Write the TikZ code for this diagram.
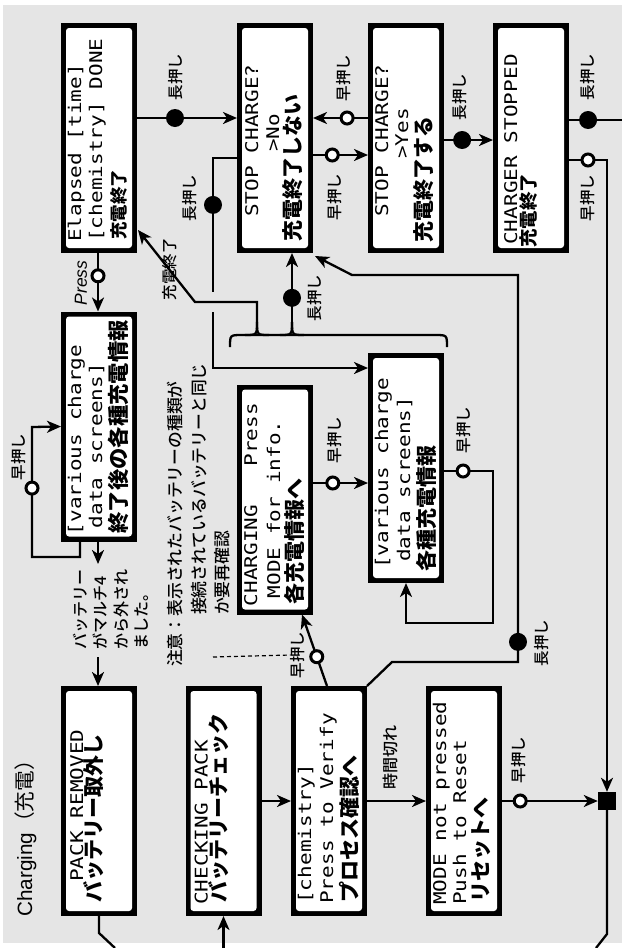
\documentclass[tikz,border=0pt]{standalone}
\usepackage{fontspec}
\usepackage{graphicx}
\usetikzlibrary{arrows.meta,calc}
\newfontfamily\cjk{Noto Sans CJK JP}
\newfontfamily\cjkm{Noto Sans CJK JP}[UprightFont=* Medium]
\newfontfamily\lcdmono{DejaVu Sans Mono}
\newfontfamily\lsans{Liberation Sans}
\definecolor{bg}{RGB}{229,229,229}
\ExplSyntaxOn
\dim_new:N \l_lcd_pitch_dim
\dim_set:Nn \l_lcd_pitch_dim {12.7pt}
\NewDocumentCommand \lcdtext { m }
  {
    \str_map_inline:nn {#1}
      {
        \str_if_eq:nnTF {##1} {_}
          { \makebox[\l_lcd_pitch_dim]{} }
          { \makebox[\l_lcd_pitch_dim]{\scalebox{1.2}[1]{##1}} }
      }
  }
\ExplSyntaxOff
\tikzset{
 lcd/.style={rectangle, fill=black, minimum width=76pt, minimum height=230pt, inner sep=0pt, outer sep=0pt,
   path picture={\fill[white, rounded corners=3pt] ([xshift=5pt,yshift=5pt]path picture bounding box.south west) rectangle ([xshift=-5pt,yshift=-5pt]path picture bounding box.north east);}},
 mono/.style={rotate=90, anchor=base west, inner sep=0pt, font=\lcdmono\fontsize{17.5}{17.5}\selectfont},
 jbold/.style={rotate=90, anchor=base west, inner sep=0pt, font=\cjk\bfseries\fontsize{21}{21}\selectfont},
 lab/.style={rotate=90, inner sep=0pt, font=\cjkm\fontsize{15.5}{15.5}\selectfont},
 note/.style={rotate=90, anchor=base west, inner sep=0pt, font=\cjkm\fontsize{16.8}{16.8}\selectfont},
 wire/.style={line width=2.3pt},
 arr/.style={wire, -{Stealth[length=14pt,width=12pt,inset=4pt]}},
 dotf/.style={circle, fill=black, minimum size=18pt, inner sep=0pt},
 openc/.style={circle, draw=black, line width=3pt, fill=white, minimum size=12pt, inner sep=0pt},
 sqnode/.style={rectangle, fill=black, minimum size=18pt, inner sep=0pt},
}
\begin{document}
\begin{tikzpicture}[x=1pt,y=-1pt]
\useasboundingbox (0,0) rectangle (622,948);
\fill[bg] (3,5) rectangle (622,943);

% boxes
\node[lcd] (A) at (99,138) {};
\node[lcd] (B) at (99,426.5) {};
\node[lcd] (C) at (99,801) {};
\node[lcd] (D) at (223.5,801) {};
\node[lcd] (E) at (275,138) {};
\node[lcd] (F) at (275,499.5) {};
\node[lcd] (G) at (329,801) {};
\node[lcd] (H) at (406,138) {};
\node[lcd] (I) at (406,468) {};
\node[lcd] (J) at (464,801) {};
\node[lcd] (K) at (531,138) {};
\node[sqnode] (sq) at (607,801) {};

% box texts
\node[mono]  (A1) at ($(A.south west)+(20,-11)$) {\lcdtext{Elapsed [time]}};
\node[mono]  (A2) at ($(A.south west)+(41,-11)$) {\lcdtext{[chemistry] DONE}};
\node[jbold, font=\cjk\bfseries\fontsize{17.5}{17.5}\selectfont] (A3) at ($(A.south west)+(64,-13)$) {充電終了};

\node[mono]  (B1) at ($(B.south west)+(20,-6)$) {\lcdtext{[various charge}};
\node[mono]  (B2) at ($(B.south west)+(41,-13)$) {\lcdtext{data screens]}};
\node[jbold, font=\cjk\bfseries\fontsize{21.3}{21.3}\selectfont] (B3) at ($(B.south west)+(65,-8)$) {終了後の各種充電情報};

\node[mono]  (C1) at ($(C.south west)+(22,-34)$) {\lcdtext{PACK REMOVED}};
\node[jbold] (C2) at ($(C.south west)+(40,-13)$) {バッテリー取外し};

\node[mono]  (D1) at ($(D.south west)+(22,-11)$) {\lcdtext{CHECKING PACK}};
\node[jbold] (D2) at ($(D.south west)+(41,-13)$) {バッテリーチェック};

\node[mono]  (E1) at ($(E.south west)+(21,-36)$) {\lcdtext{STOP CHARGE?}};
\node[mono]  (E2) at ($(E.south west)+(42,-101)$) {\lcdtext{>No}};
\node[jbold] (E3) at ($(E.south west)+(63,-11)$) {充電終了しない};

\node[mono]  (F1) at ($(F.south west)+(20,-8)$) {\lcdtext{CHARGING___Press}};
\node[mono]  (F2) at ($(F.south west)+(43,-16)$) {\lcdtext{MODE for info.}};
\node[jbold] (F3) at ($(F.south west)+(65,-10)$) {各充電情報へ};

\node[mono]  (G1) at ($(G.south west)+(20,-12)$) {\lcdtext{[chemistry]}};
\node[mono]  (G2) at ($(G.south west)+(42,-12)$) {\lcdtext{Press to Verify}};
\node[jbold] (G3) at ($(G.south west)+(66,-13)$) {プロセス確認へ};

\node[mono]  (H1) at ($(H.south west)+(20,-36)$) {\lcdtext{STOP CHARGE?}};
\node[mono]  (H2) at ($(H.south west)+(40,-94)$) {\lcdtext{>Yes}};
\node[jbold] (H3) at ($(H.south west)+(63,-10)$) {充電終了する};

\node[mono]  (I1) at ($(I.south west)+(20,-14)$) {\lcdtext{[various charge}};
\node[mono]  (I2) at ($(I.south west)+(42,-21)$) {\lcdtext{data screens]}};
\node[jbold] (I3) at ($(I.south west)+(66,-11)$) {各種充電情報};

\node[mono]  (J1) at ($(J.south west)+(20,-11)$) {\lcdtext{MODE not pressed}};
\node[mono]  (J2) at ($(J.south west)+(40,-11)$) {\lcdtext{Push to Reset}};
\node[jbold] (J3) at ($(J.south west)+(62,-13)$) {リセットへ};

\node[mono]  (K1) at ($(K.south west)+(24,-8)$) {\lcdtext{CHARGER STOPPED}};
\node[jbold, font=\cjk\bfseries\fontsize{18.5}{18.5}\selectfont] (K2) at ($(K.south west)+(42,-5)$) {充電終了};

% free texts
\node[rotate=90, anchor=base west, inner sep=0pt, font=\lsans\fontsize{20.7}{20.7}\selectfont] (title) at (32,917) {Charging{\cjk （充電）}};
\node[note, font=\cjkm\fontsize{16}{16}\selectfont] (rem1) at (86,650) {バッテリー};
\node[note, font=\cjkm\fontsize{16}{16}\selectfont] (rem2) at (106,650) {がマルチ4};
\node[note, font=\cjkm\fontsize{16}{16}\selectfont] (rem3) at (127,650) {から外され};
\node[note, font=\cjkm\fontsize{16}{16}\selectfont] (rem4) at (147,650) {ました。};
\node[note] (note1) at (181.5,667) {注意：表示されたバッテリーの種類が};
\node[note] (note2) at (205.5,615) {接続されているバッテリーと同じ};
\node[note] (note3) at (228.5,615) {か要再確認};

% labels
\node[lab] (l1) at (176,77) {長押し};
\node[lab] (l2) at (344,78) {早押し};
\node[lab] (l3) at (335,197) {早押し};
\node[lab] (l4) at (460,97) {長押し};
\node[lab] (l5) at (588,77) {長押し};
\node[lab] (l6) at (588,198) {早押し};
\node[lab] (l7) at (190,198) {長押し};
\node[lab] (l8) at (170,269) {充電終了};
\node[lab] (l9) at (315,298) {長押し};
\node[lab] (l10) at (542,643) {長押し};
\node[lab] (l11) at (464,430) {早押し};
\node[lab] (l12) at (335,440) {早押し};
\node[lab] (l13) at (19,457) {早押し};
\node[lab] (l14) at (298,655) {早押し};
\node[lab, font=\cjkm\fontsize{16}{16}\selectfont] (l15) at (390,757) {時間切れ};
\node[lab] (l16) at (519,760) {早押し};
\node[rotate=90, inner sep=0pt, font=\lsans\itshape\fontsize{17.5}{17.5}\selectfont] (lpress) at (81,283) {Press};

% coordinates
\coordinate (kout) at (622,120);
\coordinate (sqx1) at (607,934);
\coordinate (sqx2) at (596,948);
\coordinate (cx1) at (99,933);
\coordinate (cx2) at (115,948);
\coordinate (din) at (223.5,948);
\coordinate (remin) at (98,564);
\coordinate (remout) at (98,657);
\coordinate (bj1) at (257,322);
\coordinate (bj2) at (292,322);
\coordinate (jmpA) at (213,292);
\coordinate (jmpB) at (213,312);
\coordinate (dashA) at (213,657);

% connectors
\draw[arr] ($(A.east)+(0,-20)$) -- node[dotf,pos=.38]{} ($(E.west)+(0,-20)$);
\draw[arr] ($(H.west)+(0,-20)$) -- node[openc,pos=.38]{} ($(E.east)+(0,-20)$);
\draw[arr] ($(E.east)+(0,17)$) -- node[openc,pos=.35]{} ($(H.west)+(0,17)$);
\draw[arr] ($(H.east)+(0,2)$) -- node[dotf,pos=.37]{} ($(K.west)+(0,2)$);
\draw[wire] ($(K.east)+(0,-18)$) -- node[dotf,pos=.36]{} (kout);
\draw[arr] ($(K.east)+(0,22)$) -| node[openc,pos=.25]{} (sq.north);
\draw[wire] (sq.south) -- (sqx1) -- (sqx2);
\draw[arr] (J.east) -- node[openc,pos=.19]{} (sq.west);
\draw[arr] (G.east) -- (J.west);
\draw[arr] (D.east) -- (G.west);
\draw[wire] (C.south) -- (cx1) -- (cx2);
\draw[arr] (din) -- (D.south);
\draw[arr] ($(A.south)+(-1,0)$) -- node[openc,pos=.39]{} ($(B.north)+(-1,0)$);
\draw[arr] ($(B.south)+(-19,0)$) -- (80,557) -- (32,557) -- node[openc,pos=.53]{} (32,427) -- (B.west);
\draw[arr] ($(B.south)+(-1,0)$) -- (remin);
\draw[arr] (remout) -- ($(C.north)+(-1,0)$);
\draw[arr] ($(G.north)+(-2,0)$) -- node[openc,pos=.41]{} ($(F.south)+(27,0)$);
\draw[dashed, line width=1.2pt, dash pattern=on 4pt off 3pt] (dashA) -- (l14.north);
\draw[arr] (G.north east) -- (392,662) -- (518,662) -- node[dotf,pos=.052]{} (518,275) -- (352,275) -- ($(E.south east)+(2,3)$);
\draw[arr] ($(F.east)+(0,-16.5)$) -- node[openc,pos=.36]{} ($(I.west)+(0,15)$);
\draw[arr] ($(I.east)+(0,3)$) -- node[openc,pos=.39]{} (493,471) -- (493,623) -- (406,623) -- (I.south);
\draw[wire] ($(E.west)+(0,20)$) -- (213,158) -- node[dotf,pos=.35]{} (jmpA);
\draw[arr] (jmpB) -- (213,368) -- ($(I.north west)+(0,15)$);
% brace
\draw[wire] (230,347) .. controls (230,335) .. (242,335) -- (435,335) .. controls (447,335) .. (447,347);
\draw[wire] (bj1) .. controls (257,335) .. (245,335);
\draw[wire] (bj1) .. controls (257,335) .. (269,335);
\draw[wire] (bj2) .. controls (292,335) .. (280,335);
\draw[wire] (bj2) .. controls (292,335) .. (304,335);
\draw[arr] (bj1) -- (257,302) -- (195,302) -- ($(A.south east)+(1,-23)$);
\draw[arr] (bj2) -- node[dotf,pos=.35]{} ($(E.south)+(17,0)$);
\end{tikzpicture}
\end{document}
